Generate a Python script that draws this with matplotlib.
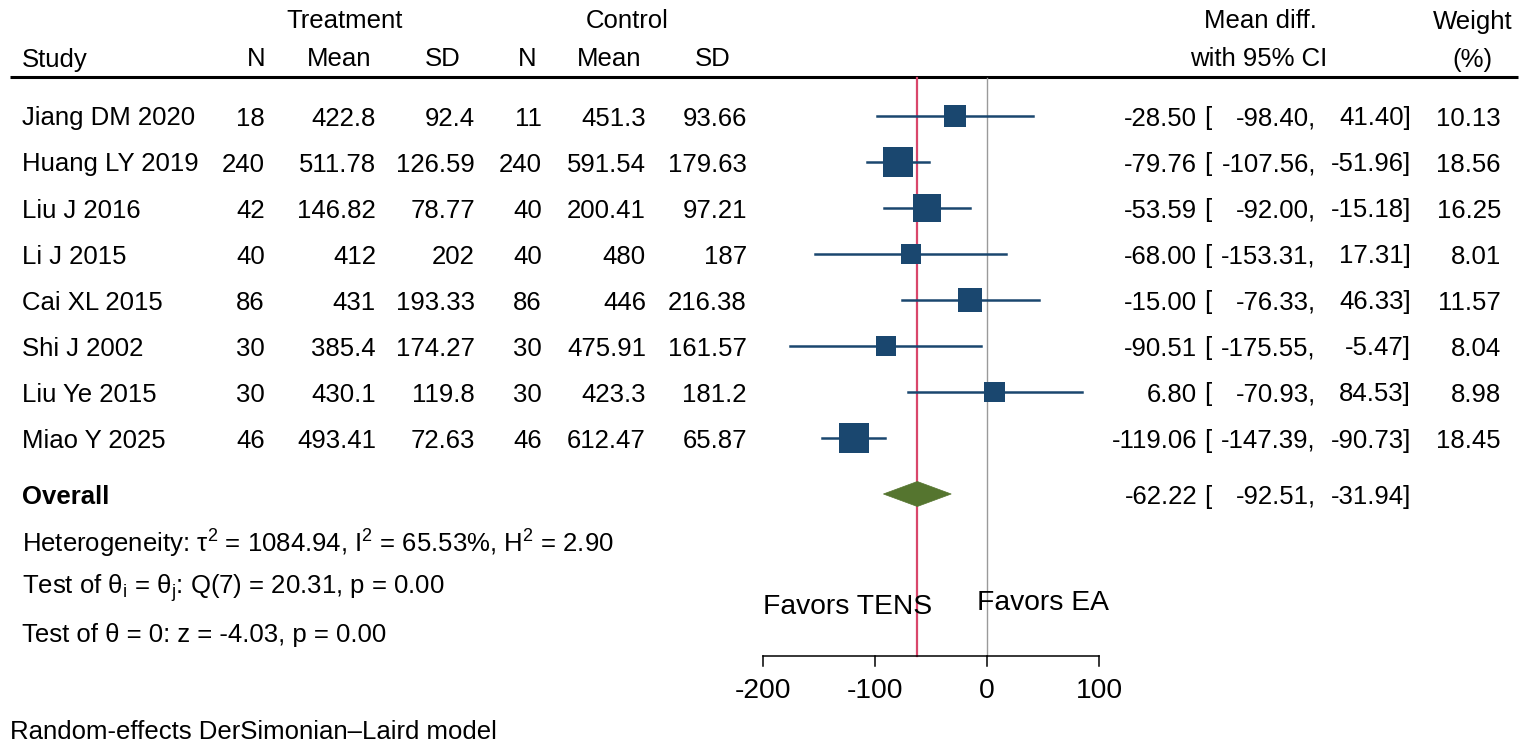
import numpy as np
import matplotlib
matplotlib.use("Agg")
import matplotlib.pyplot as plt
from matplotlib.patches import Polygon

plt.rcParams['font.family'] = ['Liberation Sans', 'DejaVu Sans']
plt.rcParams['mathtext.fontset'] = 'custom'
plt.rcParams['mathtext.rm'] = 'Liberation Sans'
plt.rcParams['mathtext.it'] = 'Liberation Sans:italic'

# ---------------- data ----------------
studies = ["Jiang DM 2020", "Huang LY 2019", "Liu J 2016", "Li J 2015",
           "Cai XL 2015", "Shi J 2002", "Liu Ye 2015", "Miao Y 2025"]
treat_n = [18, 240, 42, 40, 86, 30, 30, 46]
treat_mean = [422.8, 511.78, 146.82, 412, 431, 385.4, 430.1, 493.41]
treat_sd = [92.4, 126.59, 78.77, 202, 193.33, 174.27, 119.8, 72.63]
ctrl_n = [11, 240, 40, 40, 86, 30, 30, 46]
ctrl_mean = [451.3, 591.54, 200.41, 480, 446, 475.91, 423.3, 612.47]
ctrl_sd = [93.66, 179.63, 97.21, 187, 216.38, 161.57, 181.2, 65.87]
mean_diff = [-28.50, -79.76, -53.59, -68.00, -15.00, -90.51, 6.80, -119.06]
ci_low = [-98.40, -107.56, -92.00, -153.31, -76.33, -175.55, -70.93, -147.39]
ci_high = [41.40, -51.96, -15.18, 17.31, 46.33, -5.47, 84.53, -90.73]
weight = [10.13, 18.56, 16.25, 8.01, 11.57, 8.04, 8.98, 18.45]
overall_es, overall_lo, overall_hi = -62.22, -92.51, -31.94
xticks = [-200, -100, 0, 100]
het_text = r"Heterogeneity: τ$^2$ = 1084.94, I$^2$ = 65.53%, H$^2$ = 2.90"
q_text = r"Test of θ$_\mathrm{i}$ = θ$_\mathrm{j}$: Q(7) = 20.31, p = 0.00"
z_text = "Test of θ = 0: z = -4.03, p = 0.00"
model_text = "Random-effects DerSimonian\u2013Laird model"
fav_left, fav_right = "Favors TENS", "Favors EA"

# ---------------- layout ----------------
W, H = 1535, 749
X0, SX = 987.0, 1.12       # pixel of x=0, pixels per unit
Y0, SY = 116.0, 46.0       # pixel of first row, pixels per row
TDY = 2.5 / SY             # small downward shift for text

def X(px):
    return (px - X0) / SX

def Y(py):
    return (py - Y0) / SY

fig = plt.figure(figsize=(W / 100, H / 100), dpi=100)
ax = fig.add_axes([0, 0, 1, 1])
ax.set_xlim(X(0), X(W))
ax.set_ylim(Y(H), Y(0))
ax.axis('off')

navy = '#1a476f'
green = '#55752f'
red = '#d9466b'
fs = 18.5

def txt(x, y, s, ha='left', size=fs, **kw):
    ax.text(x, y + TDY, s, ha=ha, va='center', fontsize=size, **kw)

rows = np.arange(len(studies))
overall_row = Y(494)

# headers
txt(X(345), Y(19), "Treatment", 'center')
txt(X(627), Y(19), "Control", 'center')
txt(X(1260), Y(19), "Mean diff.", 'center')
txt(X(1473), Y(19), "Weight", 'center')
hy = Y(57)
txt(X(22), hy, "Study")
for px, lab in [(256, "N"), (339, "Mean"), (443, "SD"), (527, "N"), (609, "Mean"), (713, "SD")]:
    txt(X(px), hy, lab, 'center')
txt(X(1259), hy, "with 95% CI", 'center')
txt(X(1472), hy, "(%)", 'center')
ax.plot([X(10), X(1518)], [Y(77), Y(77)], color='black', lw=2.2, solid_capstyle='butt')

# reference lines
ax.plot([0, 0], [Y(78), Y(656)], color='#9a9a9a', lw=1.0)
ax.plot([overall_es, overall_es], [Y(78), Y(656)], color=red, lw=1.6)

# study rows
for i, r in enumerate(rows):
    txt(X(22), r, studies[i])
    txt(X(265), r, f"{treat_n[i]:g}", 'right')
    txt(X(376), r, f"{treat_mean[i]:g}", 'right')
    txt(X(475), r, f"{treat_sd[i]:g}", 'right')
    txt(X(542), r, f"{ctrl_n[i]:g}", 'right')
    txt(X(646), r, f"{ctrl_mean[i]:g}", 'right')
    txt(X(747), r, f"{ctrl_sd[i]:g}", 'right')
    txt(X(1197), r, f"{mean_diff[i]:.2f}", 'right')
    txt(X(1204), r, "[")
    txt(X(1316), r, f"{ci_low[i]:.2f},", 'right')
    txt(X(1411), r, f"{ci_high[i]:.2f}]", 'right')
    txt(X(1501), r, f"{weight[i]:.2f}", 'right')
    ax.plot([ci_low[i], ci_high[i]], [r, r], color=navy, lw=1.8, zorder=3)

ax.scatter(mean_diff, rows, s=[25.4 * w for w in weight], marker='s',
           color=navy, edgecolors='none', zorder=4)

# overall
txt(X(22), overall_row, "Overall", fontweight='bold')
txt(X(1197), overall_row, f"{overall_es:.2f}", 'right')
txt(X(1204), overall_row, "[")
txt(X(1316), overall_row, f"{overall_lo:.2f},", 'right')
txt(X(1411), overall_row, f"{overall_hi:.2f}]", 'right')
dh = 12.5 / SY
diamond = Polygon([(overall_lo, overall_row), (overall_es, overall_row - dh),
                   (overall_hi, overall_row), (overall_es, overall_row + dh)],
                  closed=True, facecolor=green, edgecolor=green, lw=0.5, zorder=4)
ax.add_patch(diamond)

# statistics
txt(X(22), Y(541), het_text)
txt(X(22), Y(586), q_text)
txt(X(22), Y(632), z_text)
txt(X(10), Y(729), model_text)

# favors labels
txt(xticks[0], Y(604), fav_left, size=20.3)
txt(X(977), Y(601), fav_right, size=20.3)

# x axis
axis_y = Y(656)
tick_len = 10 / SY
ax.plot([xticks[0], xticks[-1]], [axis_y, axis_y], color='black', lw=1.1)
for t in xticks:
    ax.plot([t, t], [axis_y, axis_y + tick_len], color='black', lw=1.1)
    txt(t, Y(688), f"{t:g}", 'center', size=20.3)

fig.savefig("out.png", dpi=100)
